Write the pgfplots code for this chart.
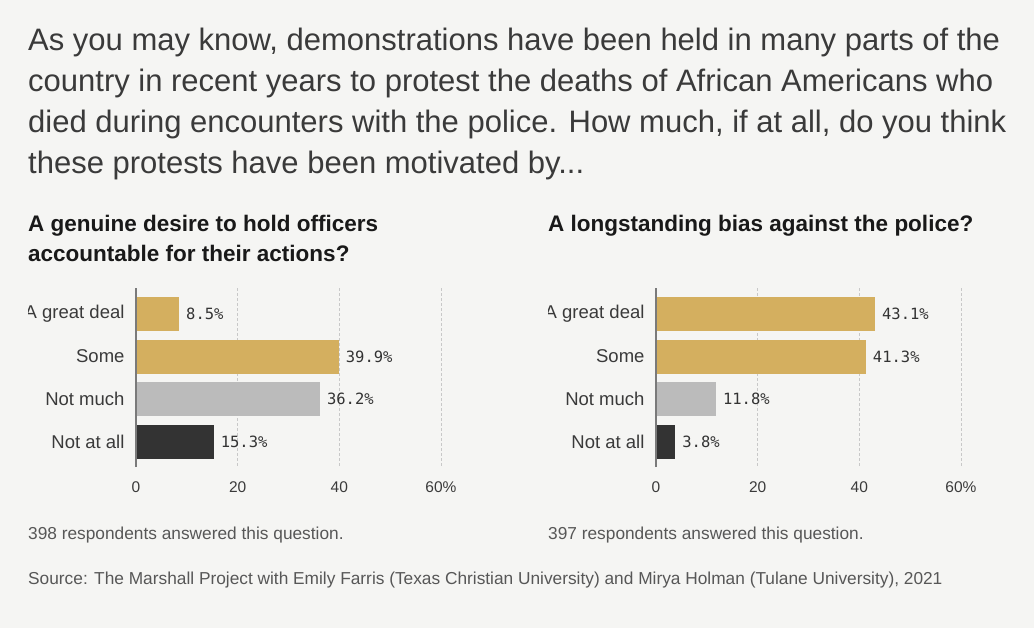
\documentclass[border=0pt]{standalone}
\usepackage{pgfplots}
\pgfplotsset{compat=1.18}
\usepackage{fontspec}
\setmainfont{Liberation Sans}
\newfontfamily\monofont{DejaVu Sans Mono}
\definecolor{bg}{HTML}{F5F5F3}
\definecolor{gold}{HTML}{D4AF5F}
\definecolor{lgray}{HTML}{BBBBBB}
\definecolor{dgray}{HTML}{333333}
\definecolor{txt}{HTML}{3A3A3A}
\definecolor{axcol}{HTML}{7A7A7A}
\definecolor{gridc}{HTML}{C8C8C8}

\pgfplotsset{
  panel/.style={
    scale only axis, width=305pt, height=179pt,
    anchor=south west,
    xmin=0, xmax=60, ymin=-0.61, ymax=3.59, y dir=reverse,
    axis line style={draw=none},
    major tick length=0pt,
    xtick={0,20,40,60}, xticklabels={0,20,40,60\%},
    ytick={0,1,2,3}, yticklabels={A great deal,Some,Not much,Not at all},
    xmajorgrids, grid style={gridc, dash pattern=on 2.5pt off 2.5pt, line width=0.8pt},
    ymajorgrids=false,
    tick label style={text=txt},
    xticklabel style={font=\fontsize{15.5}{18}\selectfont, yshift=-11pt},
    yticklabel style={font=\fontsize{18.5}{22}\selectfont, xshift=-8pt},
    xbar, bar width=34pt,
    /pgf/number format/assume math mode=true,
    nodes near coords={\pgfmathprintnumber[fixed,fixed zerofill,precision=1,assume math mode=true]{\pgfplotspointmeta}\%},
    every node near coord/.append style={font=\monofont\fontsize{15.5}{18}\selectfont, text=dgray, anchor=west, xshift=3.5pt},
    clip=false,
  }
}

\begin{document}
\begin{tikzpicture}[x=1pt,y=1pt]
\fill[bg] (0pt,0pt) rectangle (1034pt,-628pt);

\begin{scope}[every node/.style={anchor=base west, inner sep=0pt, text=txt, font=\fontsize{31}{37}\selectfont}]
\node at (28pt,-51pt) {As you may know, demonstrations have been held in many parts of the};
\node at (28pt,-92pt) {country in recent years to protest the deaths of African Americans who};
\node at (28pt,-133pt) {died during encounters with the police. How much, if at all, do you think};
\node at (28pt,-174pt) {these protests have been motivated by...};
\end{scope}

\begin{scope}[every node/.style={anchor=base west, inner sep=0pt, text=black!90, font=\bfseries\fontsize{22.5}{26}\selectfont}]
\node at (28pt,-232pt) {A genuine desire to hold officers};
\node at (28pt,-262pt) {accountable for their actions?};
\node at (548pt,-232pt) {A longstanding bias against the police?};
\end{scope}

\begin{scope}[every node/.style={anchor=base west, inner sep=0pt, text=txt!85, font=\fontsize{17.3}{20}\selectfont}]
\node at (28pt,-539pt) {398 respondents answered this question.};
\node at (548pt,-539pt) {397 respondents answered this question.};
\node at (28pt,-584pt) {Source: The Marshall Project with Emily Farris (Texas Christian University) and Mirya Holman (Tulane University), 2021};
\end{scope}

\begin{axis}[panel, at={(136pt,-467pt)}]
\addplot[fill=gold, draw=none, bar shift=0pt] coordinates {(8.5,0)};
\addplot[fill=gold, draw=none, bar shift=0pt] coordinates {(39.9,1)};
\addplot[fill=lgray, draw=none, bar shift=0pt] coordinates {(36.2,2)};
\addplot[fill=dgray, draw=none, bar shift=0pt] coordinates {(15.3,3)};
\draw[axcol, line width=1.6pt] (rel axis cs:0,0) -- (rel axis cs:0,1);
\end{axis}

\begin{axis}[panel, at={(656pt,-467pt)}]
\addplot[fill=gold, draw=none, bar shift=0pt] coordinates {(43.1,0)};
\addplot[fill=gold, draw=none, bar shift=0pt] coordinates {(41.3,1)};
\addplot[fill=lgray, draw=none, bar shift=0pt] coordinates {(11.8,2)};
\addplot[fill=dgray, draw=none, bar shift=0pt] coordinates {(3.8,3)};
\draw[axcol, line width=1.6pt] (rel axis cs:0,0) -- (rel axis cs:0,1);
\end{axis}

\fill[bg] (0pt,-298pt) rectangle (28pt,-332pt);
\fill[bg] (520pt,-298pt) rectangle (548pt,-332pt);
\end{tikzpicture}
\end{document}
